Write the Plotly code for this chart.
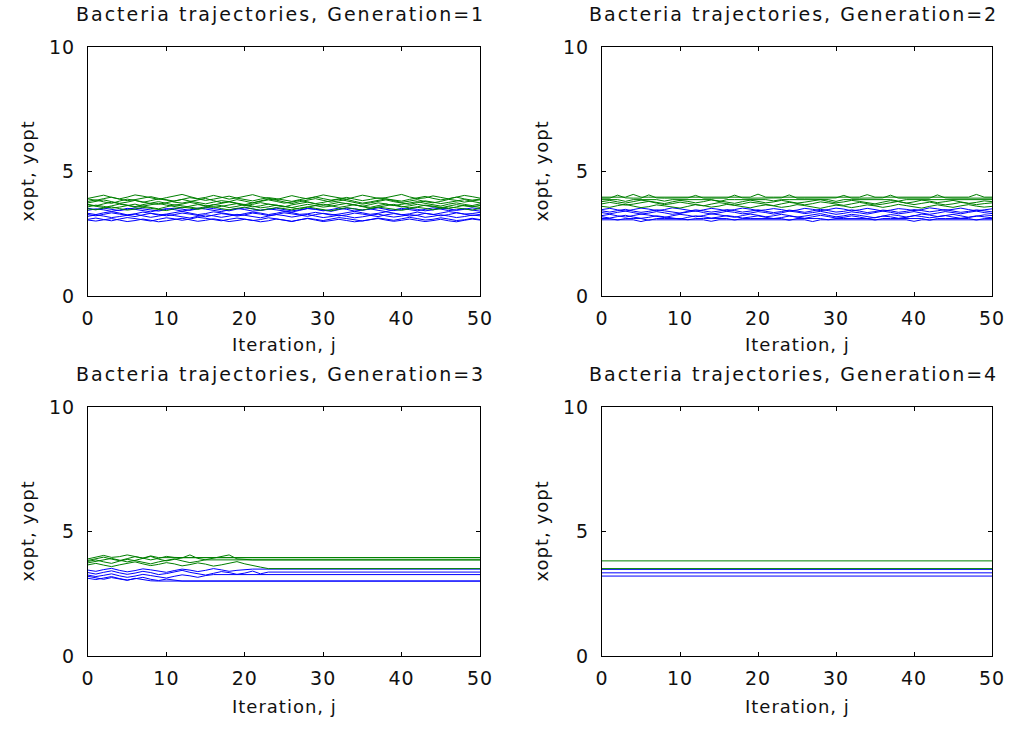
import plotly.graph_objects as go

# ---------------- data (read / estimated from the picture) ----------------
x_ticks = [0, 10, 20, 30, 40, 50]
y_ticks = [0, 5, 10]
titles = ["Bacteria trajectories, Generation=1", "Bacteria trajectories, Generation=2",
          "Bacteria trajectories, Generation=3", "Bacteria trajectories, Generation=4"]
x_label = "Iteration, j"
y_label = "xopt, yopt"
j_last = 50

# Generation 1 : yopt (green) and xopt (blue) trajectories
gen1_green = [
    [3.92,3.98,4.05,3.96,3.90,3.97,4.06,4.01,3.93,3.88,
     3.95,4.03,4.08,3.99,3.91,3.96,4.04,3.97,3.89,3.94,
     4.02,4.07,3.98,3.92,3.87,3.95,4.03,3.96,3.90,3.98,
     4.06,4.00,3.93,3.89,3.97,4.05,3.99,3.92,3.95,4.03,
     4.08,3.98,3.91,3.94,4.02,3.96,3.90,3.97,4.04,3.99,3.93],
    [3.90,3.84,3.91,3.97,3.89,3.83,3.87,3.94,3.99,3.92,
     3.85,3.81,3.88,3.95,3.90,3.84,3.89,3.96,4.01,3.93,
     3.86,3.82,3.89,3.95,3.91,3.85,3.80,3.87,3.93,3.98,
     3.91,3.85,3.90,3.96,3.89,3.83,3.88,3.94,3.90,3.84,
     3.81,3.88,3.95,4.00,3.92,3.86,3.91,3.97,3.90,3.85,3.89],
    [3.80,3.86,3.78,3.72,3.81,3.89,3.84,3.76,3.83,3.90,
     3.85,3.77,3.73,3.80,3.88,3.92,3.83,3.75,3.79,3.87,
     3.81,3.74,3.82,3.89,3.85,3.78,3.71,3.79,3.86,3.91,
     3.84,3.77,3.82,3.88,3.80,3.73,3.78,3.85,3.90,3.83,
     3.76,3.81,3.87,3.79,3.74,3.80,3.88,3.84,3.77,3.82,3.86],
    [3.74,3.80,3.86,3.79,3.72,3.77,3.84,3.78,3.71,3.68,
     3.75,3.82,3.88,3.81,3.74,3.70,3.77,3.83,3.79,3.72,
     3.67,3.74,3.81,3.86,3.80,3.73,3.77,3.84,3.78,3.71,
     3.76,3.83,3.89,3.82,3.75,3.69,3.74,3.80,3.86,3.79,
     3.72,3.68,3.75,3.82,3.77,3.71,3.76,3.83,3.87,3.80,3.74],
    [3.68,3.62,3.70,3.77,3.71,3.64,3.59,3.67,3.74,3.79,
     3.72,3.65,3.69,3.76,3.70,3.61,3.66,3.73,3.78,3.71,
     3.63,3.68,3.75,3.69,3.62,3.58,3.66,3.72,3.77,3.70,
     3.64,3.69,3.76,3.71,3.65,3.60,3.67,3.74,3.70,3.63,
     3.68,3.75,3.79,3.72,3.66,3.61,3.69,3.74,3.68,3.63,3.70],
    [3.66,3.60,3.55,3.62,3.69,3.64,3.57,3.61,3.68,3.72,
     3.65,3.59,3.54,3.61,3.67,3.63,3.56,3.60,3.66,3.71,
     3.64,3.58,3.62,3.69,3.65,3.59,3.55,3.62,3.68,3.63,
     3.57,3.61,3.67,3.72,3.66,3.60,3.56,3.63,3.69,3.64,
     3.58,3.62,3.68,3.63,3.57,3.54,3.61,3.67,3.62,3.58,3.64],
    [3.58,3.65,3.60,3.53,3.57,3.64,3.69,3.61,3.55,3.50,
     3.58,3.66,3.62,3.56,3.52,3.59,3.67,3.63,3.55,3.60,
     3.68,3.61,3.54,3.58,3.65,3.60,3.53,3.49,3.57,3.64,
     3.69,3.62,3.56,3.61,3.67,3.59,3.52,3.57,3.63,3.68,
     3.60,3.54,3.58,3.65,3.61,3.55,3.51,3.58,3.64,3.60,3.56],
    [3.50,3.46,3.53,3.58,3.51,3.45,3.49,3.56,3.52,3.47,
     3.43,3.50,3.57,3.53,3.48,3.54,3.59,3.51,3.46,3.52,
     3.57,3.50,3.44,3.49,3.55,3.51,3.46,3.53,3.58,3.52,
     3.47,3.42,3.49,3.55,3.50,3.45,3.51,3.57,3.53,3.48,
     3.44,3.50,3.56,3.52,3.46,3.51,3.58,3.54,3.48,3.45,3.52],
]
gen1_blue = [
    [3.52,3.47,3.53,3.49,3.43,3.48,3.54,3.50,3.45,3.41,
     3.48,3.53,3.49,3.44,3.50,3.55,3.51,3.46,3.42,3.49,
     3.54,3.50,3.44,3.48,3.53,3.47,3.42,3.46,3.52,3.49,
     3.44,3.40,3.47,3.53,3.50,3.45,3.49,3.54,3.48,3.43,
     3.47,3.52,3.48,3.42,3.46,3.53,3.50,3.44,3.48,3.54,3.49],
    [3.44,3.50,3.46,3.40,3.45,3.52,3.48,3.42,3.38,3.45,
     3.51,3.47,3.41,3.46,3.53,3.49,3.43,3.39,3.46,3.52,
     3.47,3.41,3.44,3.50,3.46,3.40,3.37,3.44,3.51,3.48,
     3.42,3.47,3.53,3.48,3.41,3.45,3.50,3.44,3.39,3.46,
     3.52,3.47,3.42,3.48,3.54,3.49,3.43,3.46,3.51,3.45,3.41],
    [3.32,3.27,3.34,3.39,3.33,3.26,3.30,3.37,3.32,3.25,
     3.29,3.36,3.40,3.33,3.27,3.31,3.38,3.34,3.28,3.24,
     3.31,3.37,3.33,3.27,3.32,3.39,3.35,3.28,3.30,3.36,
     3.31,3.25,3.29,3.35,3.40,3.34,3.28,3.32,3.38,3.33,
     3.26,3.30,3.37,3.32,3.27,3.33,3.39,3.35,3.29,3.31,3.36],
    [3.27,3.22,3.28,3.34,3.29,3.23,3.19,3.26,3.32,3.28,
     3.22,3.27,3.33,3.29,3.23,3.18,3.25,3.31,3.27,3.21,
     3.26,3.33,3.29,3.23,3.27,3.34,3.30,3.24,3.20,3.27,
     3.32,3.28,3.22,3.26,3.33,3.29,3.23,3.19,3.26,3.31,
     3.27,3.21,3.25,3.32,3.28,3.22,3.27,3.34,3.29,3.23,3.28],
    [3.20,3.26,3.21,3.15,3.19,3.25,3.29,3.22,3.16,3.21,
     3.27,3.23,3.17,3.13,3.20,3.26,3.22,3.16,3.21,3.28,
     3.24,3.18,3.14,3.21,3.27,3.23,3.17,3.22,3.28,3.21,
     3.15,3.19,3.25,3.20,3.14,3.18,3.24,3.29,3.22,3.17,
     3.21,3.27,3.23,3.16,3.20,3.26,3.21,3.15,3.19,3.25,3.22],
    [3.08,3.13,3.07,3.02,3.09,3.15,3.11,3.05,3.01,3.08,
     3.14,3.10,3.04,3.09,3.16,3.12,3.06,3.02,3.08,3.13,
     3.09,3.03,3.07,3.14,3.10,3.04,2.99,3.06,3.12,3.08,
     3.03,3.09,3.15,3.11,3.05,3.01,3.07,3.13,3.09,3.04,
     3.10,3.16,3.11,3.05,3.08,3.14,3.09,3.03,3.06,3.12,3.07],
    [3.05,3.01,3.06,3.11,3.05,2.99,3.03,3.09,3.04,2.98,
     3.02,3.08,3.12,3.06,3.00,3.04,3.10,3.05,2.99,3.03,
     3.08,3.04,2.98,3.02,3.09,3.05,3.00,3.06,3.11,3.05,
     2.99,3.03,3.08,3.03,2.98,3.02,3.07,3.11,3.05,3.00,
     3.04,3.09,3.04,2.99,3.03,3.08,3.02,2.98,3.04,3.09,3.05],
]

# Generation 2
gen2_green = [
    [3.97,3.97,3.97,3.97,4.08,3.97,3.97,3.97,3.97,3.97,
     3.97,3.97,3.97,3.97,3.97,3.97,3.97,3.97,3.97,3.97,
     4.09,3.97,3.97,3.97,3.97,3.97,3.97,3.97,3.97,3.97,
     3.97,3.97,3.97,3.97,4.07,3.97,3.97,3.97,3.97,3.97,
     3.97,3.97,3.97,3.97,3.97,3.97,3.97,3.97,4.08,3.97,3.97],
    [3.93,3.93,4.05,3.94,3.93,3.93,4.06,3.94,3.93,3.93,
     3.93,3.94,4.04,3.93,3.93,3.93,3.93,4.05,3.94,3.93,
     3.93,3.93,3.93,3.94,4.06,3.93,3.93,3.93,3.93,3.93,
     3.94,4.04,3.93,3.93,3.93,3.93,3.94,4.05,3.93,3.93,
     3.93,3.93,3.93,4.06,3.94,3.93,3.93,3.93,3.93,3.93,3.93],
    [3.87,3.87,3.87,3.80,3.87,3.87,3.87,3.87,3.81,3.87,
     3.87,3.87,3.87,3.87,3.87,3.79,3.87,3.87,3.87,3.87,
     3.87,3.87,3.82,3.87,3.87,3.87,3.87,3.87,3.87,3.87,
     3.80,3.87,3.87,3.87,3.87,3.87,3.87,3.87,3.81,3.87,
     3.87,3.87,3.87,3.87,3.87,3.87,3.87,3.87,3.87,3.87,3.87],
    [3.79,3.84,3.78,3.73,3.79,3.85,3.81,3.75,3.71,3.78,
     3.84,3.80,3.74,3.79,3.86,3.82,3.76,3.72,3.79,3.85,
     3.80,3.74,3.78,3.84,3.79,3.73,3.77,3.83,3.87,3.80,
     3.74,3.78,3.84,3.80,3.74,3.70,3.77,3.83,3.79,3.73,
     3.78,3.85,3.81,3.75,3.79,3.84,3.78,3.72,3.76,3.82,3.79],
    [3.70,3.76,3.71,3.65,3.69,3.75,3.80,3.73,3.67,3.71,
     3.77,3.72,3.66,3.62,3.69,3.75,3.71,3.65,3.70,3.77,
     3.73,3.67,3.63,3.70,3.76,3.72,3.66,3.71,3.78,3.74,
     3.68,3.64,3.70,3.76,3.71,3.65,3.69,3.75,3.80,3.73,
     3.67,3.72,3.77,3.71,3.66,3.70,3.76,3.72,3.67,3.71,3.74],
    [3.60,3.56,3.63,3.68,3.61,3.55,3.59,3.66,3.62,3.57,
     3.53,3.60,3.67,3.63,3.57,3.61,3.68,3.64,3.58,3.54,
     3.61,3.66,3.62,3.56,3.60,3.67,3.63,3.57,3.52,3.59,
     3.65,3.61,3.55,3.60,3.66,3.62,3.56,3.61,3.68,3.63,
     3.57,3.53,3.60,3.66,3.61,3.56,3.62,3.67,3.61,3.57,3.60],
]
gen2_blue = [
    [3.47,3.52,3.46,3.41,3.47,3.53,3.49,3.43,3.47,3.54,
     3.50,3.44,3.40,3.46,3.52,3.48,3.42,3.47,3.53,3.49,
     3.43,3.46,3.51,3.47,3.41,3.45,3.52,3.48,3.43,3.47,
     3.53,3.49,3.42,3.46,3.52,3.47,3.41,3.45,3.51,3.48,
     3.43,3.47,3.54,3.50,3.44,3.48,3.53,3.47,3.42,3.46,3.50],
    [3.42,3.37,3.43,3.48,3.41,3.36,3.40,3.46,3.42,3.36,
     3.33,3.40,3.46,3.42,3.37,3.41,3.47,3.43,3.37,3.41,
     3.46,3.40,3.35,3.39,3.45,3.41,3.36,3.42,3.48,3.43,
     3.37,3.40,3.46,3.41,3.35,3.39,3.45,3.42,3.36,3.40,
     3.47,3.43,3.38,3.42,3.47,3.41,3.36,3.40,3.46,3.42,3.38],
    [3.35,3.30,3.36,3.41,3.35,3.29,3.33,3.39,3.34,3.28,
     3.32,3.38,3.42,3.35,3.29,3.34,3.40,3.36,3.30,3.33,
     3.39,3.35,3.29,3.34,3.41,3.37,3.31,3.35,3.40,3.34,
     3.28,3.32,3.38,3.34,3.29,3.35,3.41,3.36,3.30,3.34,
     3.39,3.33,3.28,3.33,3.39,3.35,3.30,3.36,3.41,3.35,3.31],
    [3.23,3.28,3.22,3.17,3.23,3.29,3.25,3.19,3.15,3.22,
     3.28,3.24,3.18,3.23,3.30,3.26,3.20,3.16,3.23,3.29,
     3.24,3.18,3.22,3.28,3.23,3.17,3.21,3.27,3.31,3.24,
     3.18,3.22,3.28,3.24,3.18,3.14,3.21,3.27,3.23,3.17,
     3.22,3.29,3.25,3.19,3.23,3.28,3.22,3.16,3.20,3.26,3.23],
    [3.18,3.13,3.19,3.24,3.17,3.12,3.16,3.22,3.18,3.12,
     3.09,3.16,3.22,3.18,3.13,3.17,3.23,3.19,3.13,3.17,
     3.22,3.16,3.11,3.15,3.21,3.17,3.12,3.18,3.24,3.19,
     3.13,3.16,3.22,3.17,3.11,3.15,3.21,3.18,3.12,3.16,
     3.23,3.19,3.14,3.18,3.23,3.17,3.12,3.16,3.22,3.18,3.14],
    [3.11,3.11,3.05,3.11,3.11,3.11,3.04,3.11,3.11,3.11,
     3.11,3.06,3.11,3.11,3.11,3.11,3.11,3.05,3.11,3.11,
     3.11,3.11,3.11,3.11,3.04,3.11,3.11,3.11,3.11,3.06,
     3.11,3.11,3.11,3.11,3.11,3.05,3.11,3.11,3.11,3.11,
     3.11,3.11,3.04,3.11,3.11,3.11,3.11,3.11,3.05,3.11,3.11],
    [3.06,3.06,3.06,3.06,3.06,2.99,3.06,3.06,3.06,3.06,
     3.06,3.06,3.06,3.06,3.00,3.06,3.06,3.06,3.06,3.06,
     3.06,3.06,3.06,3.06,3.06,3.06,3.06,2.99,3.06,3.06,
     3.06,3.06,3.06,3.06,3.06,3.06,3.06,3.06,3.06,3.06,
     3.00,3.06,3.06,3.06,3.06,3.06,3.06,3.06,3.06,3.06,3.06],
]

# Generation 3 : bacteria stop moving after some iterations (last value kept)
gen3_green = [
    [3.90,3.97,4.04,3.96,3.99,4.06,3.98,3.93,4.02,3.95],
    [3.84,3.90,3.97,3.89,3.83,3.91,3.99,3.93,3.86,3.92,
     4.00,3.96,3.95],
    [3.80,3.86,3.78,3.72,3.81,3.88,3.83,3.76,3.70,3.78,
     3.85,3.90,3.82,3.75,3.80,3.87,3.94,3.99,4.06,3.90,
     3.89,3.86],
    [3.66,3.72,3.65,3.59,3.66,3.73,3.78,3.70,3.63,3.68,
     3.75,3.70,3.62,3.67,3.74,3.69,3.61,3.66,3.73,3.79,
     3.70,3.62,3.57,3.51],
    [3.74,3.80,3.86,3.92,3.85,3.78,3.84,3.91,4.00,3.89,
     3.82,3.88,3.94,4.06,3.92,3.86],
]
gen3_blue = [
    [3.20,3.14,3.08,3.15,3.10,3.04,3.12,3.07,3.02,3.01],
    [3.12,3.07,3.13,3.19,3.11,3.05,3.10,3.16,3.08,3.03,
     3.09,3.05,3.01],
    [3.35,3.29,3.36,3.42,3.34,3.28,3.33,3.40,3.35,3.27,
     3.31,3.38,3.44,3.36,3.30,3.25,3.32,3.39,3.35,3.28,
     3.33,3.41,3.30,3.37],
    [3.45,3.40,3.47,3.52,3.44,3.38,3.43,3.50,3.46,3.40,
     3.36,3.43,3.49,3.45,3.39,3.44,3.51,3.46,3.40,3.44,
     3.48,3.49],
    [3.25,3.19,3.24,3.30,3.22,3.16,3.21,3.28,3.23,3.17,
     3.13,3.20,3.26,3.22,3.16,3.23,3.27],
]

# Generation 4 : all bacteria stationary
gen4_green = [[3.82], [3.51]]
gen4_blue = [[3.48], [3.34], [3.21]]

panels = [(gen1_green, gen1_blue), (gen2_green, gen2_blue),
          (gen3_green, gen3_blue), (gen4_green, gen4_blue)]

# ---------------- layout geometry ----------------
W, H = 1012, 729
col_px = [(88, 480), (602, 992)]
row_px = [(47, 296), (407, 656)]
title_y_px = [14, 374]
xlab_y_px = [344, 706]
ylab_x_px = [27, 541]

BLUE = "#0000ff"
GREEN = "#008000"
FONT = "DejaVu Sans"
TXT = "#111111"

fig = go.Figure()

for k, (greens, blues) in enumerate(panels):
    xa = "x" if k == 0 else f"x{k+1}"
    ya = "y" if k == 0 else f"y{k+1}"
    n = max(len(greens), len(blues))
    for i in range(n):
        for series, color in ((blues, BLUE), (greens, GREEN)):
            if i >= len(series):
                continue
            v = series[i]
            xs = list(range(len(v)))
            ys = list(v)
            if xs[-1] < j_last:
                xs.append(j_last)
                ys.append(v[-1])
            fig.add_trace(go.Scatter(x=xs, y=ys, mode="lines", xaxis=xa, yaxis=ya,
                                     line=dict(color=color, width=1),
                                     showlegend=False, hoverinfo="skip"))


def spaced(t, px):
    return f'<span style="letter-spacing:{px}px">{t}</span>'


annotations = []
for k in range(4):
    r, c = divmod(k, 2)
    x0, x1 = col_px[c]
    yt, yb = row_px[r]
    dom_x = [x0 / W, x1 / W]
    dom_y = [1 - yb / H, 1 - yt / H]
    sfx = "" if k == 0 else str(k + 1)
    axis_common = dict(showline=True, linecolor="black", linewidth=1, mirror="ticks",
                       ticks="inside", ticklen=4, tickcolor="black", tickwidth=1,
                       showgrid=False, zeroline=False, automargin=False,
                       tickfont=dict(family=FONT, size=19, color=TXT))
    fig.update_layout(**{
        f"xaxis{sfx}": dict(domain=dom_x, range=[0, j_last], tickvals=x_ticks,
                            ticktext=[spaced(str(t), 1) for t in x_ticks],
                            anchor=f"y{sfx}", ticklabelstandoff=5, **axis_common),
        f"yaxis{sfx}": dict(domain=dom_y, range=[0, 10], tickvals=y_ticks,
                            ticktext=[spaced(str(t), 1) for t in y_ticks],
                            anchor=f"x{sfx}", ticklabelstandoff=8, **axis_common),
    })
    cx = (x0 + x1) / 2 / W
    annotations.append(dict(
        text=spaced(titles[k], 2), x=cx - 4 / W, y=1 - title_y_px[r] / H,
        xref="paper", yref="paper", xanchor="center", yanchor="middle",
        showarrow=False, font=dict(family=FONT, size=19, color=TXT)))
    annotations.append(dict(
        text=spaced(x_label, 1), x=cx, y=1 - xlab_y_px[r] / H,
        xref="paper", yref="paper", xanchor="center", yanchor="middle",
        showarrow=False, font=dict(family=FONT, size=18, color=TXT)))
    annotations.append(dict(
        text=spaced(y_label, 1), x=ylab_x_px[c] / W, y=(dom_y[0] + dom_y[1]) / 2,
        xref="paper", yref="paper", xanchor="center", yanchor="middle",
        showarrow=False, textangle=-90, font=dict(family=FONT, size=18, color=TXT)))

fig.update_layout(template="none", width=W, height=H,
                  margin=dict(l=0, r=0, t=0, b=0, pad=0),
                  paper_bgcolor="white", plot_bgcolor="white",
                  annotations=annotations, showlegend=False)

fig.write_html("out.html")
